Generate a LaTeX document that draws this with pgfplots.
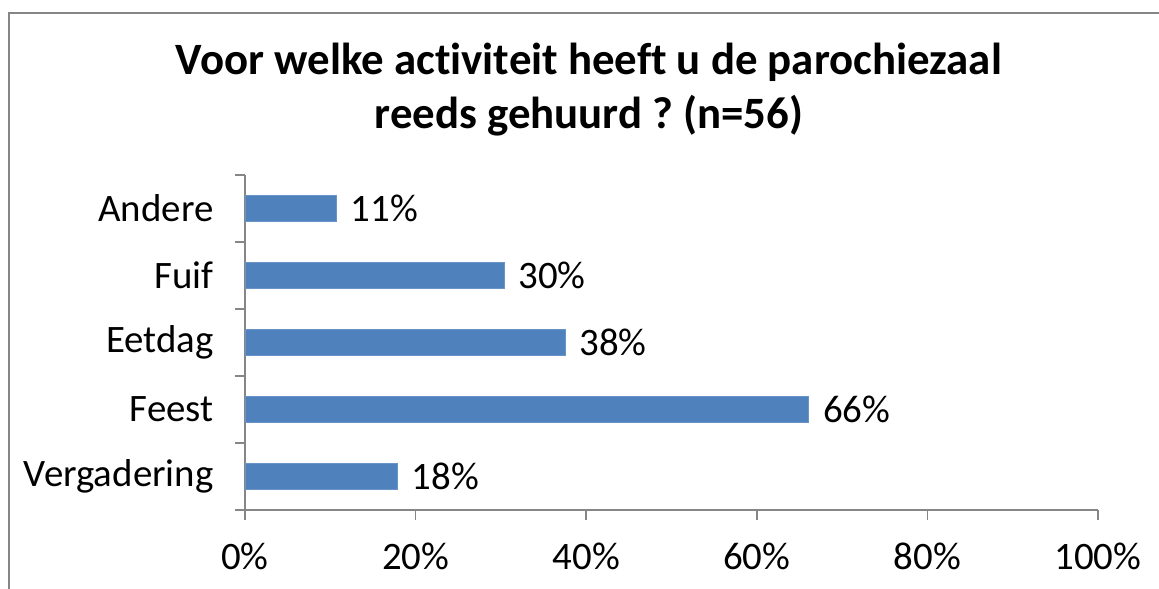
\documentclass[border=0pt]{standalone}
\usepackage{fontspec}
\setmainfont{Carlito}[Ligatures=CommonOff]
\usepackage{pgfplots}
\pgfplotsset{compat=1.18}
\definecolor{barblue}{HTML}{4F81BD}
\definecolor{axgray}{HTML}{868686}
\frenchspacing

% shares of n=56
\pgfplotstableread{
pos value
0 17.86
1 66.07
2 37.5
3 30.36
4 10.71
}\activiteiten

\begin{document}
\begin{tikzpicture}[x=1bp,y=1bp]
\useasboundingbox (0,0) rectangle (1159,589);
\draw[axgray, line width=1.5bp] (9,-20) rectangle (1190,576);
\node[font=\fontsize{45}{54}\selectfont\bfseries, anchor=base] at (589,514) {Voor welke activiteit heeft u de parochiezaal};
\node[font=\fontsize{45}{54}\selectfont\bfseries, anchor=base] at (589,460) {reeds gehuurd ? (n=56)};
\begin{axis}[
    at={(245bp,79bp)}, anchor=south west,
    scale only axis,
    width=853bp, height=335bp,
    xbar, bar width=26bp,
    xmin=0, xmax=100,
    ymin=-0.5, ymax=4.5,
    axis x line*=bottom, axis y line*=left,
    axis line style={axgray, line width=1.5bp},
    every tick/.style={axgray, line width=1.5bp},
    tick align=outside, major tick length=10bp,
    xtick={0,20,40,60,80,100},
    xticklabel={\pgfmathprintnumber{\tick}\%},
    ytick={-0.5,0.5,1.5,2.5,3.5,4.5},
    y tick label as interval,
    yticklabels={Vergadering,Feest,Eetdag,Fuif,Andere},
    tick label style={font=\fontsize{39}{46}\selectfont, text=black},
    xticklabel style={yshift=-19bp},
    yticklabel style={xshift=-18bp},
    /pgf/number format/assume math mode=true,
    nodes near coords={\pgfmathprintnumber[fixed,precision=0]{\pgfplotspointmeta}\%},
    nodes near coords style={font=\fontsize{39}{46}\selectfont, anchor=west, xshift=11bp, text=black},
]
\addplot[fill=barblue, draw=barblue!85!white] table[x=value, y=pos] {\activiteiten};
\end{axis}
\end{tikzpicture}
\end{document}
